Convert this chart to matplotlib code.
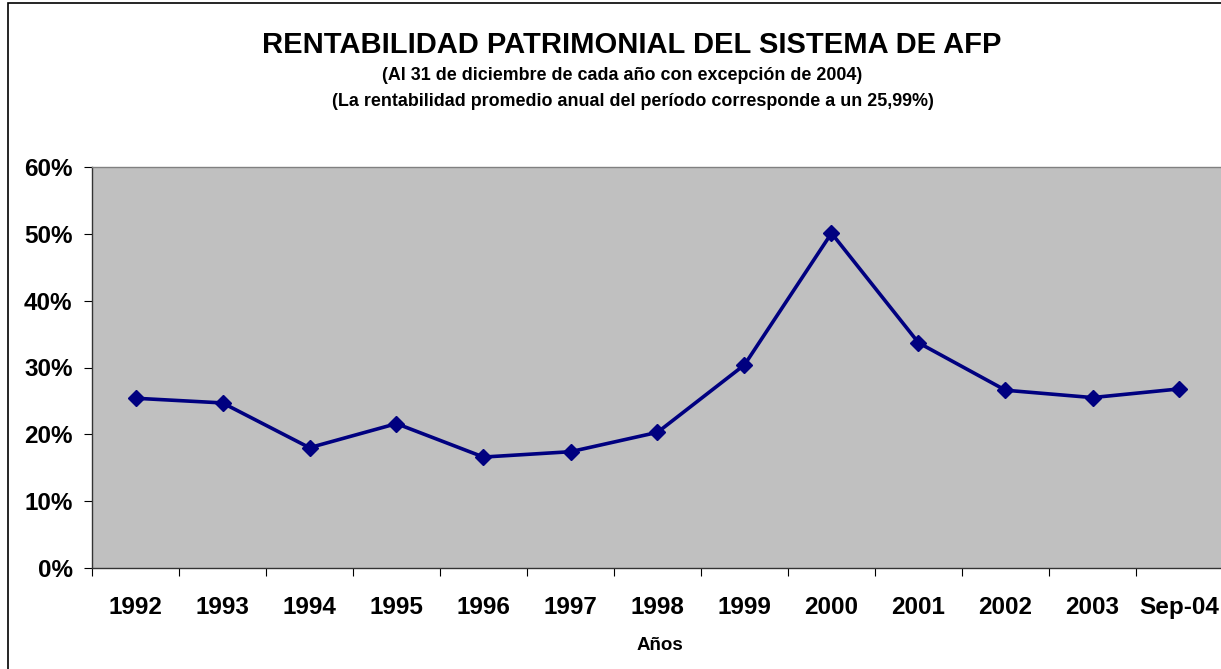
import numpy as np
import matplotlib.pyplot as plt
from matplotlib.patches import Rectangle
from matplotlib.ticker import FuncFormatter, FixedLocator

# valores
years = ['1992', '1993', '1994', '1995', '1996', '1997', '1998',
         '1999', '2000', '2001', '2002', '2003', 'Sep-04']
rentabilidad = [25.4, 24.7, 18.0, 21.6, 16.6, 17.4, 20.3,
                30.4, 50.1, 33.7, 26.6, 25.5, 26.8]

title = 'RENTABILIDAD PATRIMONIAL DEL SISTEMA DE AFP'
sub1 = '(Al 31 de diciembre de cada año con excepción de 2004)'
sub2 = '(La rentabilidad promedio anual del período corresponde a un 25,99%)'

plt.rcParams['font.family'] = ['Liberation Sans', 'DejaVu Sans']
plt.rcParams['font.weight'] = 'bold'

W, H = 1221, 669
fig = plt.figure(figsize=(W / 100, H / 100), dpi=100)

# marco del area del grafico
fig.patches.append(Rectangle((8 / W, -0.1), 1.2, 1 - 3 / H + 0.1,
                             transform=fig.transFigure, fill=False,
                             edgecolor='black', linewidth=1.2))

left, right = 92, 1223
top, bottom = 167, 568
ax = fig.add_axes([left / W, 1 - bottom / H, (right - left) / W, (bottom - top) / H])
ax.set_facecolor('#C0C0C0')

x = np.arange(len(years))
ax.plot(x, rentabilidad, color='#000080', lw=2.6, marker='D', markersize=8.5,
        markerfacecolor='#000080', markeredgecolor='#000080')

ax.set_xlim(-0.5, len(years) - 0.5)
ax.set_ylim(0, 60)
ax.set_yticks(np.arange(0, 61, 10))
ax.yaxis.set_major_formatter(FuncFormatter(lambda v, p: f'{v:.0f}%'))

ax.xaxis.set_major_locator(FixedLocator(np.arange(-0.5, len(years), 1)))
ax.xaxis.set_major_formatter(FuncFormatter(lambda v, p: ''))
ax.set_xticks(x, minor=True)
ax.set_xticklabels(years, minor=True)
ax.tick_params(axis='x', which='minor', length=0, pad=20, labelsize=17.5)
ax.tick_params(axis='x', which='major', direction='out', length=6, color='black')
ax.tick_params(axis='y', direction='out', length=6, pad=8, labelsize=17.5)

for s in ['top', 'right']:
    ax.spines[s].set_color('#808080')
    ax.spines[s].set_linewidth(1.0)
for s in ['left', 'bottom']:
    ax.spines[s].set_color('#333333')
    ax.spines[s].set_linewidth(1.0)

fig.text(632 / W, 1 - 45 / H, title, ha='center', va='center', fontsize=21, fontweight='bold')
fig.text(622 / W, 1 - 75 / H, sub1, ha='center', va='center', fontsize=12.9, fontweight='bold')
fig.text(633 / W, 1 - 102 / H, sub2, ha='center', va='center', fontsize=12.9, fontweight='bold')
fig.text(660 / W, 1 - 645 / H, 'Años', ha='center', va='center', fontsize=13.5, fontweight='bold')

fig.savefig('out.png', dpi=100)
